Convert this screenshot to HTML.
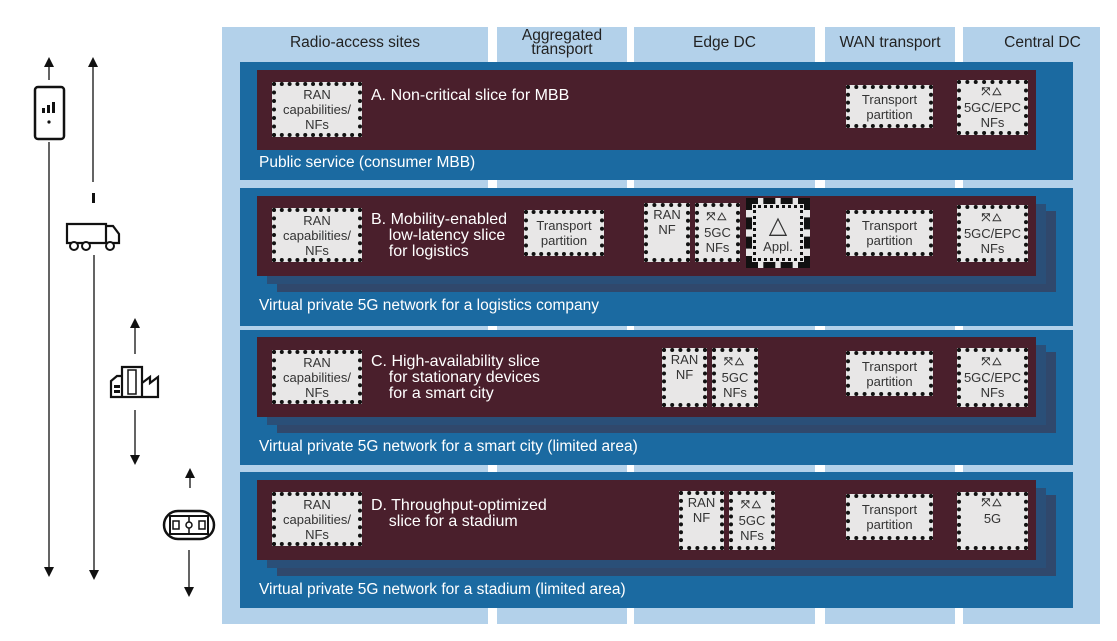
<!DOCTYPE html>
<html><head><meta charset="utf-8"><style>
*{margin:0;padding:0;box-sizing:border-box}
body{width:1117px;height:641px;background:#fff;position:relative;overflow:hidden;font-family:"Liberation Sans",sans-serif}
.a{position:absolute}
.col{position:absolute;background:#b3d1ea;top:27px;height:597px}
.hd{position:absolute;color:#222;font-size:15.5px;text-align:center;line-height:14px;white-space:nowrap}
.pan{position:absolute;left:240px;width:833px;background:#1b6aa1}
.sh1{position:absolute;background:#2a4f78}
.sh2{position:absolute;background:#30486c}
.mar{position:absolute;left:257px;width:779px;background:#4a1f2c}
.lbl{position:absolute;left:259px;color:#fff;font-size:15.5px;white-space:nowrap}
.bx{position:absolute;background:#e8e7e7;border:4px dotted #111;color:#333;font-size:13px;line-height:15px;text-align:center;display:flex;flex-direction:column;justify-content:center;align-items:center;white-space:nowrap}
.tt{position:absolute;color:#fff;font-size:16px;line-height:16px;white-space:nowrap}
.ic{font-size:11px;letter-spacing:2px;font-weight:bold}
</style></head><body>
<div class="col" style="left:222px;width:266px"></div>
<div class="col" style="left:497px;width:130px"></div>
<div class="col" style="left:634px;width:181px"></div>
<div class="col" style="left:825px;width:130px"></div>
<div class="col" style="left:963px;width:137px"></div>
<div class="hd" style="left:222px;width:266px;top:36px">Radio-access sites</div>
<div class="hd" style="left:497px;width:130px;top:29px">Aggregated<br>transport</div>
<div class="hd" style="left:634px;width:181px;top:36px">Edge DC</div>
<div class="hd" style="left:825px;width:130px;top:36px">WAN transport</div>
<div class="hd" style="left:985px;width:115px;top:36px">Central DC</div>

<!-- A -->
<div class="pan" style="top:62px;height:118px"></div>
<div class="mar" style="top:70px;height:80px"></div>
<div class="lbl" style="top:154px">Public service (consumer MBB)</div>
<div class="bx" style="left:272px;top:82px;width:90px;height:55px">RAN<br>capabilities/<br>NFs</div>
<div class="tt" style="left:371px;top:88px">A. Non-critical slice for MBB</div>
<div class="bx" style="left:846px;top:85px;width:87px;height:43px">Transport<br>partition</div>
<div class="bx" style="left:957px;top:80px;width:71px;height:55px"><span class="ic">⤧△</span>5GC/EPC<br>NFs</div>

<!-- B -->
<div class="pan" style="top:188px;height:138px"></div>
<div class="sh2" style="left:277px;top:211px;width:779px;height:81px"></div>
<div class="sh1" style="left:267px;top:204px;width:779px;height:80px"></div>
<div class="mar" style="top:196px;height:80px"></div>
<div class="lbl" style="top:297px">Virtual private 5G network for a logistics company</div>
<div class="bx" style="left:272px;top:208px;width:90px;height:54px">RAN<br>capabilities/<br>NFs</div>
<div class="tt" style="left:371px;top:212px">B. Mobility-enabled<br>&nbsp;&nbsp;&nbsp;&nbsp;low-latency slice<br>&nbsp;&nbsp;&nbsp;&nbsp;for logistics</div>
<div class="bx" style="left:524px;top:210px;width:80px;height:46px">Transport<br>partition</div>
<div class="bx" style="left:644px;top:203px;width:46px;height:59px;justify-content:flex-start">RAN<br>NF</div>
<div class="bx" style="left:695px;top:203px;width:45px;height:59px"><span class="ic">⤧△</span>5GC<br>NFs</div>
<div class="bx" style="left:746px;top:198px;width:64px;height:70px;border:6px dashed #111;outline:3px dotted #111;outline-offset:-10px"><span style="font-size:24px;line-height:26px">△</span>Appl.</div>
<div class="bx" style="left:846px;top:210px;width:87px;height:46px">Transport<br>partition</div>
<div class="bx" style="left:957px;top:205px;width:71px;height:57px"><span class="ic">⤧△</span>5GC/EPC<br>NFs</div>

<!-- C -->
<div class="pan" style="top:330px;height:135px"></div>
<div class="sh2" style="left:277px;top:352px;width:779px;height:81px"></div>
<div class="sh1" style="left:267px;top:345px;width:779px;height:80px"></div>
<div class="mar" style="top:337px;height:80px"></div>
<div class="lbl" style="top:438px">Virtual private 5G network for a smart city (limited area)</div>
<div class="bx" style="left:272px;top:350px;width:90px;height:54px">RAN<br>capabilities/<br>NFs</div>
<div class="tt" style="left:371px;top:354px">C. High-availability slice<br>&nbsp;&nbsp;&nbsp;&nbsp;for stationary devices<br>&nbsp;&nbsp;&nbsp;&nbsp;for a smart city</div>
<div class="bx" style="left:662px;top:348px;width:45px;height:59px;justify-content:flex-start">RAN<br>NF</div>
<div class="bx" style="left:712px;top:348px;width:46px;height:59px"><span class="ic">⤧△</span>5GC<br>NFs</div>
<div class="bx" style="left:846px;top:351px;width:87px;height:45px">Transport<br>partition</div>
<div class="bx" style="left:957px;top:348px;width:71px;height:59px"><span class="ic">⤧△</span>5GC/EPC<br>NFs</div>

<!-- D -->
<div class="pan" style="top:472px;height:136px"></div>
<div class="sh2" style="left:277px;top:495px;width:779px;height:81px"></div>
<div class="sh1" style="left:267px;top:488px;width:779px;height:80px"></div>
<div class="mar" style="top:480px;height:80px"></div>
<div class="lbl" style="top:581px">Virtual private 5G network for a stadium (limited area)</div>
<div class="bx" style="left:272px;top:492px;width:90px;height:54px">RAN<br>capabilities/<br>NFs</div>
<div class="tt" style="left:371px;top:498px">D. Throughput-optimized<br>&nbsp;&nbsp;&nbsp;&nbsp;slice for a stadium</div>
<div class="bx" style="left:679px;top:491px;width:45px;height:59px;justify-content:flex-start">RAN<br>NF</div>
<div class="bx" style="left:729px;top:491px;width:46px;height:59px"><span class="ic">⤧△</span>5GC<br>NFs</div>
<div class="bx" style="left:846px;top:494px;width:87px;height:46px">Transport<br>partition</div>
<div class="bx" style="left:957px;top:492px;width:71px;height:58px;justify-content:flex-start"><span class="ic">⤧△</span>5G</div>

<!-- left icons -->
<svg class="a" style="left:0;top:0" width="222" height="641" viewBox="0 0 222 641">
<defs><marker id="m" markerWidth="10" markerHeight="10" refX="5" refY="5" orient="auto-start-reverse" markerUnits="userSpaceOnUse"><path d="M0,0 L10,5 L0,10z" fill="#111"/></marker></defs>
<g stroke="#111" stroke-width="1.3" fill="none">
<line x1="49" y1="80" x2="49" y2="62" marker-end="url(#m)"/>
<line x1="49" y1="142" x2="49" y2="572" marker-end="url(#m)"/>
<line x1="93" y1="182" x2="93" y2="62" marker-end="url(#m)"/>
<line x1="94" y1="255" x2="94" y2="575" marker-end="url(#m)"/>
<line x1="135" y1="330" x2="135" y2="323" marker-end="url(#m)"/>
<line x1="135" y1="330" x2="135" y2="354"/>
<line x1="135" y1="410" x2="135" y2="460" marker-end="url(#m)"/>
<line x1="190" y1="488" x2="190" y2="473" marker-end="url(#m)"/>
<line x1="189" y1="550" x2="189" y2="592" marker-end="url(#m)"/>
</g>
<rect x="35" y="87" width="29" height="52" rx="3" fill="none" stroke="#111" stroke-width="2.5"/>
<rect x="42" y="108" width="3" height="5" fill="#111"/><rect x="47" y="105" width="3" height="8" fill="#111"/><rect x="52" y="102" width="3" height="11" fill="#111"/>
<circle cx="49" cy="122" r="1.6" fill="#111"/>
<rect x="92" y="193" width="3" height="10" fill="#111"/>
<path d="M67,224 H106 V243 H67 Z M106,226 H113 L119,234 V243 H106" fill="none" stroke="#111" stroke-width="2.2"/>
<circle cx="74" cy="246" r="4" fill="#fff" stroke="#111" stroke-width="2"/><circle cx="86" cy="246" r="4" fill="#fff" stroke="#111" stroke-width="2"/><circle cx="110" cy="246" r="4" fill="#fff" stroke="#111" stroke-width="2"/>
<path d="M111,397 V381 L117,376 H122 V397 Z M122,397 V367 H142 V397 Z M142,397 V383 L150,377 V383 L158,377 V397 Z" fill="none" stroke="#111" stroke-width="2.2"/>
<rect x="114" y="385" width="6" height="3" fill="#111"/><rect x="114" y="390" width="6" height="3" fill="#111"/>
<rect x="128" y="370" width="8" height="24" fill="none" stroke="#111" stroke-width="1.5"/>
<rect x="164" y="511" width="50" height="28" rx="14" fill="none" stroke="#111" stroke-width="2.5"/>
<rect x="170" y="516" width="38" height="18" fill="none" stroke="#111" stroke-width="2"/>
<line x1="189" y1="516" x2="189" y2="534" stroke="#111" stroke-width="1.5"/>
<circle cx="189" cy="525" r="3" fill="#fff" stroke="#111" stroke-width="1.5"/>
<rect x="173" y="521" width="6" height="8" fill="none" stroke="#111" stroke-width="1.5"/>
<rect x="199" y="521" width="6" height="8" fill="none" stroke="#111" stroke-width="1.5"/>
</svg>
</body></html>
